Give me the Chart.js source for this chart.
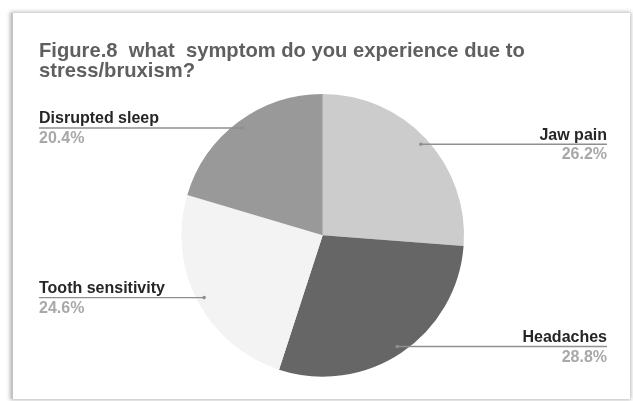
<!DOCTYPE html>
<html>
<head>
<meta charset="utf-8">
<script src="https://cdn.jsdelivr.net/npm/chart.js@4/dist/chart.umd.min.js"></script>
<style>
  html, body { margin: 0; padding: 0; background: #fff; }
  body { width: 633px; height: 401px; position: relative; overflow: hidden; }
  .frame {
    position: absolute; left: 11px; top: 13px; width: 617px; height: 386px;
    background: #fff;
    border-left: 2px solid #c4c4c4;
    box-shadow: 0 0 4px 1px rgba(0, 0, 0, 0.28);
  }
  .wrap { position: absolute; left: 0; top: 0; width: 633px; height: 401px; }
</style>
</head>
<body>
<div class="frame"></div>
<div class="wrap"><canvas id="chart"></canvas></div>
<script>
const titleLines = ['Figure.8  what  symptom do you experience due to', 'stress/bruxism?']
const categories = ['Jaw pain', 'Headaches', 'Tooth sensitivity', 'Disrupted sleep']
const percentages = [26.2, 28.8, 24.6, 20.4]
const sliceColors = ['#cccccc', '#666666', '#f3f3f3', '#999999']

const FONT = 'Arial, "Liberation Sans", sans-serif'

const calloutPlugin = {
  id: 'callouts',
  afterDraw(chart) {
    const ctx = chart.ctx
    ctx.save()

    // title
    ctx.fillStyle = '#5f5f5f'
    ctx.font = 'bold 20.2px ' + FONT
    ctx.textAlign = 'left'
    ctx.textBaseline = 'alphabetic'
    titleLines.forEach((line, i) => ctx.fillText(line, 39, 57 + i * 20))

    // leader lines + labels
    const meta = chart.getDatasetMeta(0)
    meta.data.forEach((arc, i) => {
      const { x, y, startAngle, endAngle, outerRadius } = arc.getProps(['x', 'y', 'startAngle', 'endAngle', 'outerRadius'], true)
      const mid = (startAngle + endAngle) / 2
      const ax = x + Math.cos(mid) * outerRadius * 0.948
      const ay = y + Math.sin(mid) * outerRadius * 0.948
      const right = Math.cos(mid) > 0
      const tx = right ? 607 : 39

      ctx.strokeStyle = '#8f8f8f'
      ctx.lineWidth = 1.4
      ctx.beginPath()
      ctx.moveTo(ax, ay)
      ctx.lineTo(tx, ay)
      ctx.stroke()

      ctx.fillStyle = '#8f8f8f'
      ctx.beginPath()
      ctx.arc(ax, ay, 1.8, 0, Math.PI * 2)
      ctx.fill()

      ctx.textAlign = right ? 'right' : 'left'
      ctx.font = 'bold 16px ' + FONT
      ctx.fillStyle = '#262626'
      ctx.fillText(categories[i], tx, ay - 4.5)
      ctx.fillStyle = '#a8a8a8'
      ctx.fillText(percentages[i].toFixed(1) + '%', tx, ay + 15)
    })
    ctx.restore()
  }
}

new Chart(document.getElementById('chart'), {
  type: 'pie',
  data: {
    labels: categories,
    datasets: [{
      data: percentages,
      backgroundColor: sliceColors,
      borderWidth: 0,
      hoverOffset: 0,
      offset: 0
    }]
  },
  options: {
    responsive: true,
    maintainAspectRatio: false,
    devicePixelRatio: 1,
    animation: false,
    layout: { padding: { top: 94, bottom: 24.4, left: 100, right: 87.6 } },
    plugins: {
      legend: { display: false },
      tooltip: { enabled: false },
      title: { display: false }
    }
  },
  plugins: [calloutPlugin]
})
</script>
</body>
</html>
